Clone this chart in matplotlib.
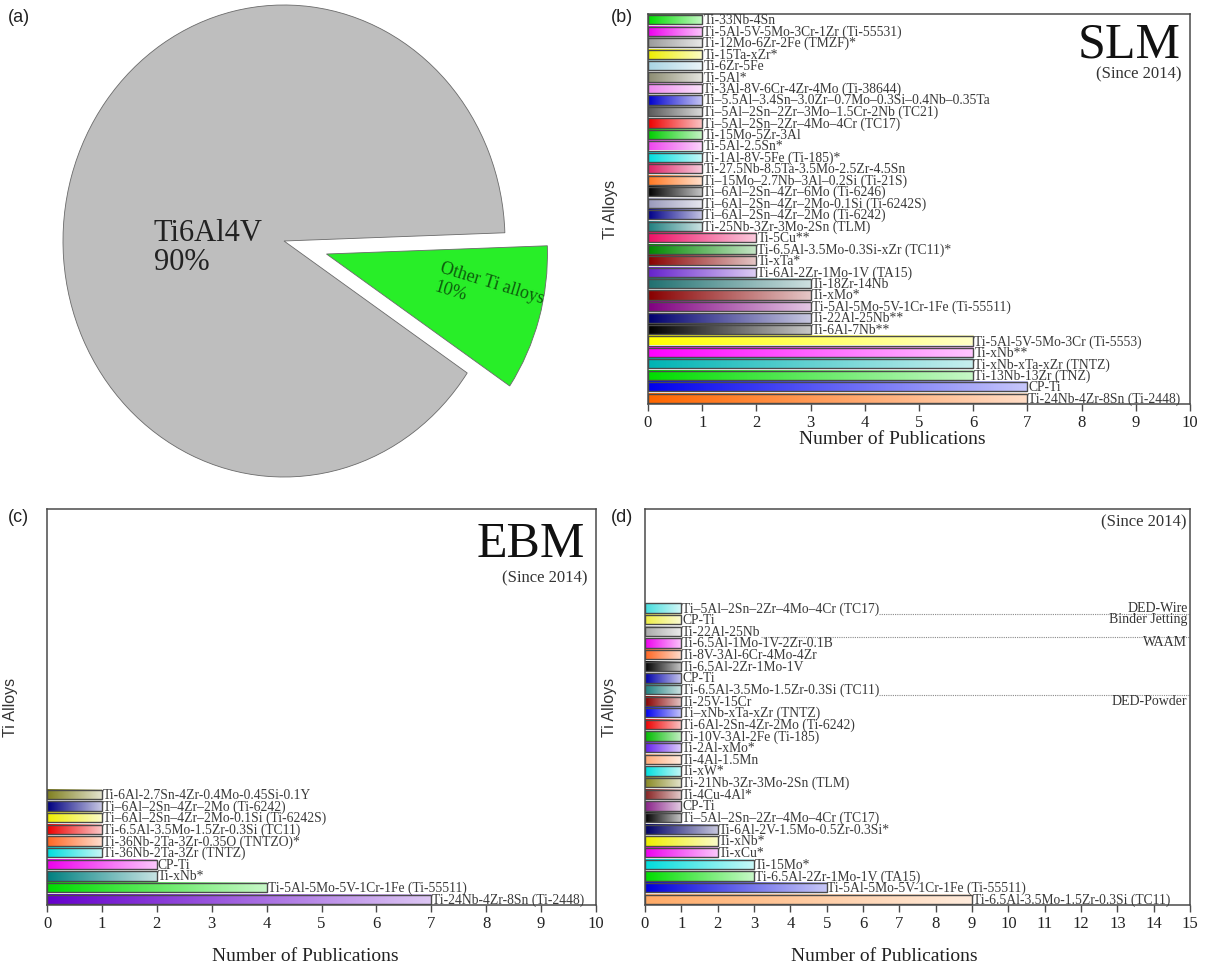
import numpy as np
import matplotlib
matplotlib.use("Agg")
import matplotlib.pyplot as plt
from matplotlib.colors import to_rgb

SERIF = "Liberation Serif"
SANS = "Liberation Sans"
plt.rcParams.update({
    "font.family": SERIF,
    "axes.linewidth": 1.1,
})

# (a) share of publications
pie_labels = ["Ti6Al4V\n90%", "Other Ti alloys\n10%"]
pie_shares = [90, 10]

# (b) SLM, listed top to bottom
slm_alloys = [
    "Ti-33Nb-4Sn",
    "Ti-5Al-5V-5Mo-3Cr-1Zr (Ti-55531)",
    "Ti-12Mo-6Zr-2Fe (TMZF)*",
    "Ti-15Ta-xZr*",
    "Ti-6Zr-5Fe",
    "Ti-5Al*",
    "Ti-3Al-8V-6Cr-4Zr-4Mo (Ti-38644)",
    "Ti–5.5Al–3.4Sn–3.0Zr–0.7Mo–0.3Si–0.4Nb–0.35Ta",
    "Ti–5Al–2Sn–2Zr–3Mo–1.5Cr-2Nb (TC21)",
    "Ti–5Al–2Sn–2Zr–4Mo–4Cr (TC17)",
    "Ti-15Mo-5Zr-3Al",
    "Ti-5Al-2.5Sn*",
    "Ti-1Al-8V-5Fe (Ti-185)*",
    "Ti-27.5Nb-8.5Ta-3.5Mo-2.5Zr-4.5Sn",
    "Ti–15Mo–2.7Nb–3Al–0.2Si (Ti-21S)",
    "Ti–6Al–2Sn–4Zr–6Mo (Ti-6246)",
    "Ti–6Al–2Sn–4Zr–2Mo-0.1Si (Ti-6242S)",
    "Ti–6Al–2Sn–4Zr–2Mo (Ti-6242)",
    "Ti-25Nb-3Zr-3Mo-2Sn (TLM)",
    "Ti-5Cu**",
    "Ti-6.5Al-3.5Mo-0.3Si-xZr (TC11)*",
    "Ti-xTa*",
    "Ti-6Al-2Zr-1Mo-1V (TA15)",
    "Ti-18Zr-14Nb",
    "Ti-xMo*",
    "Ti-5Al-5Mo-5V-1Cr-1Fe (Ti-55511)",
    "Ti-22Al-25Nb**",
    "Ti-6Al-7Nb**",
    "Ti-5Al-5V-5Mo-3Cr (Ti-5553)",
    "Ti-xNb**",
    "Ti-xNb-xTa-xZr (TNTZ)",
    "Ti-13Nb-13Zr (TNZ)",
    "CP-Ti",
    "Ti-24Nb-4Zr-8Sn (Ti-2448)",
]
slm_counts = [1] * 19 + [2, 2, 2, 2, 3, 3, 3, 3, 3, 6, 6, 6, 6, 7, 7]

# (c) EBM, top to bottom
ebm_alloys = [
    "Ti-6Al-2.7Sn-4Zr-0.4Mo-0.45Si-0.1Y",
    "Ti–6Al–2Sn–4Zr–2Mo (Ti-6242)",
    "Ti–6Al–2Sn–4Zr–2Mo-0.1Si (Ti-6242S)",
    "Ti-6.5Al-3.5Mo-1.5Zr-0.3Si (TC11)",
    "Ti-36Nb-2Ta-3Zr-0.35O (TNTZO)*",
    "Ti-36Nb-2Ta-3Zr (TNTZ)",
    "CP-Ti",
    "Ti-xNb*",
    "Ti-5Al-5Mo-5V-1Cr-1Fe (Ti-55511)",
    "Ti-24Nb-4Zr-8Sn (Ti-2448)",
]
ebm_counts = [1, 1, 1, 1, 1, 1, 2, 2, 4, 7]

# (d) other processes, top to bottom
other_alloys = [
    "Ti–5Al–2Sn–2Zr–4Mo–4Cr (TC17)",
    "CP-Ti",
    "Ti-22Al-25Nb",
    "Ti-6.5Al-1Mo-1V-2Zr-0.1B",
    "Ti-8V-3Al-6Cr-4Mo-4Zr",
    "Ti-6.5Al-2Zr-1Mo-1V",
    "CP-Ti",
    "Ti-6.5Al-3.5Mo-1.5Zr-0.3Si (TC11)",
    "Ti-25V-15Cr",
    "Ti–xNb-xTa-xZr (TNTZ)",
    "Ti-6Al-2Sn-4Zr-2Mo (Ti-6242)",
    "Ti-10V-3Al-2Fe (Ti-185)",
    "Ti-2Al-xMo*",
    "Ti-4Al-1.5Mn",
    "Ti-xW*",
    "Ti-21Nb-3Zr-3Mo-2Sn (TLM)",
    "Ti-4Cu-4Al*",
    "CP-Ti",
    "Ti–5Al–2Sn–2Zr–4Mo–4Cr (TC17)",
    "Ti-6Al-2V-1.5Mo-0.5Zr-0.3Si*",
    "Ti-xNb*",
    "Ti-xCu*",
    "Ti-15Mo*",
    "Ti-6.5Al-2Zr-1Mo-1V (TA15)",
    "Ti-5Al-5Mo-5V-1Cr-1Fe (Ti-55511)",
    "Ti-6.5Al-3.5Mo-1.5Zr-0.3Si (TC11)",
]
other_counts = [1] * 19 + [2, 2, 2, 3, 3, 5, 9]
process_names = ["DED-Wire", "Binder Jetting", "WAAM", "DED-Powder"]
process_sizes = [1, 2, 5, 18]

# bar palettes (left end of each gradient)
slm_colors = ["#00dd00", "#ee00ee", "#9a9a9a", "#eeee00", "#a8d4e4", "#8c8c72",
              "#ee88ee", "#0000cc", "#5a5a5a", "#ee0000", "#00cc00", "#ee44ee",
              "#00dddd", "#dd2266", "#ff7722", "#000000", "#9999bb", "#000088",
              "#208080", "#ee1166", "#008800", "#880000", "#6622cc", "#207070",
              "#880000", "#800080", "#000070", "#000000", "#ffff00", "#ff00ff",
              "#00b4b4", "#00dd00", "#0000ee", "#ff6600"]
ebm_colors = ["#808020", "#000080", "#eeee00", "#ee0000", "#ff6622",
              "#00dddd", "#ee00ee", "#008080", "#00dd00", "#6600cc"]
other_colors = ["#44dddd", "#eeee44", "#aaaaaa", "#ee00ee", "#ff6622", "#000000",
                "#0000aa", "#208080", "#880000", "#0000ee", "#ee0000", "#00bb00",
                "#6622ee", "#ffaa77", "#00dddd", "#888822", "#882222", "#882288",
                "#000000", "#000066", "#eeee00", "#ee00ee", "#00dddd", "#00dd00",
                "#0000dd", "#ffaa66"]

N_SLOTS = 34
BAR_H = 0.8
EDGE = "#4a4a4a"
W, H = 1206, 974


def px_axes(fig, left, top, right, bottom):
    return fig.add_axes([left / W, 1 - bottom / H, (right - left) / W, (bottom - top) / H])


def gradient_bars(ax, names, counts, colors, xmax):
    n = len(counts)
    ys = np.arange(n)[::-1]
    t = np.linspace(0, 1, 128)[:, None]
    texts = []
    for y, name, v, c in zip(ys, names, counts, colors):
        lo = np.array(to_rgb(c))
        hi = lo + (1 - lo) * 0.78
        grad = (lo[None, :] * (1 - t) + hi[None, :] * t)[None, :, :]
        ax.imshow(grad, extent=(0, v, y - BAR_H / 2, y + BAR_H / 2), aspect="auto",
                  interpolation="bilinear", zorder=2)
        texts.append(ax.text(v + 0.02, y - 0.08, name, ha="left", va="center",
                             fontsize=9.8, color="#3a3a3a", zorder=4))
    ax.barh(ys, counts, height=BAR_H, facecolor="none", edgecolor=EDGE,
            linewidth=1.0, zorder=3)
    ax.set_xlim(0, xmax)
    ax.set_ylim(-0.5, N_SLOTS - 0.5)
    ax.set_xticks(range(0, xmax + 1))
    ax.set_yticks([])
    ax.tick_params(axis="x", direction="out", length=5, width=1, colors=EDGE,
                   labelcolor="#222222", labelsize=12, pad=3)
    for s in ax.spines.values():
        s.set_color(EDGE)
    ax.set_ylabel("Ti Alloys", family=SANS, fontsize=11.5, color="#333333")
    ax.set_xlabel("Number of Publications", fontsize=14, color="#222222")
    return ys, texts


fig = plt.figure(figsize=(W / 100, H / 100), dpi=100)

# ---- (a) pie ----
cx, cy, rx, ry = 284, 241, 221, 236
axp = px_axes(fig, cx - 1.3 * rx, cy - 1.3 * ry, cx + 1.3 * rx, cy + 1.3 * ry)
axp.pie(pie_shares, explode=[0, 0.2], colors=["#bebebe", "#28ee28"], startangle=2,
        counterclock=True, wedgeprops=dict(edgecolor="#6a6a6a", linewidth=0.6))
axp.set_aspect("auto")
axp.set_xlim(-1.3, 1.3)
axp.set_ylim(-1.3, 1.3)
axp.text(-0.59, -0.03, pie_labels[0], ha="left", va="center", fontsize=22,
         color="#222222", linespacing=1.0)
axp.text(0.93, -0.22, pie_labels[1], ha="center", va="center", rotation=-17,
         rotation_mode="anchor", multialignment="left", fontsize=13, color="#0d5c0d")

# ---- (b) SLM ----
axb = px_axes(fig, 648, 14, 1190, 404)
gradient_bars(axb, slm_alloys, slm_counts, slm_colors, 10)
axb.text(0.982, 0.92, "SLM", transform=axb.transAxes, ha="right", va="center",
         fontsize=36, color="#111111")
axb.text(0.985, 0.844, "(Since 2014)", transform=axb.transAxes, ha="right",
         va="center", fontsize=12, color="#333333")
axb.yaxis.set_label_coords(-0.055, 0.5)
axb.xaxis.set_label_coords(0.45, -0.069)

# ---- (c) EBM ----
axc = px_axes(fig, 47, 509, 596, 905)
gradient_bars(axc, ebm_alloys, ebm_counts, ebm_colors, 10)
axc.text(0.98, 0.909, "EBM", transform=axc.transAxes, ha="right", va="center",
         fontsize=36, color="#111111")
axc.text(0.985, 0.826, "(Since 2014)", transform=axc.transAxes, ha="right",
         va="center", fontsize=12, color="#333333")
axc.yaxis.set_label_coords(-0.053, 0.5)
axc.xaxis.set_label_coords(0.47, -0.108)

# ---- (d) other processes ----
axd = px_axes(fig, 645, 509, 1190, 905)
ys_d, texts_d = gradient_bars(axd, other_alloys, other_counts, other_colors, 15)
axd.text(0.994, 0.967, "(Since 2014)", transform=axd.transAxes, ha="right",
         va="center", fontsize=12, color="#333333")
axd.yaxis.set_label_coords(-0.051, 0.5)
axd.xaxis.set_label_coords(0.44, -0.108)

starts = np.cumsum([0] + process_sizes[:-1])
for name, s in zip(process_names, starts):
    axd.text(14.93, ys_d[s], name, ha="right", va="center", fontsize=10,
             color="#333333")

fig.canvas.draw()
renderer = fig.canvas.get_renderer()
inv = axd.transData.inverted()
for s in starts[1:]:
    above = s - 1
    bb = texts_d[above].get_window_extent(renderer)
    x0 = inv.transform((bb.x1, 0))[0]
    axd.hlines(ys_d[above] - 0.5, x0, 15, colors="#8a8a8a", linestyles=(0, (1, 1)),
               linewidth=0.8, zorder=1)

# panel letters
for lab, x, y in [("(a)", 8, 18), ("(b)", 611, 18), ("(c)", 8, 518), ("(d)", 611, 518)]:
    fig.text(x / W, 1 - y / H, lab, family=SANS, fontsize=13, ha="left", va="center",
             color="#222222")

fig.savefig("out.png", dpi=100)
